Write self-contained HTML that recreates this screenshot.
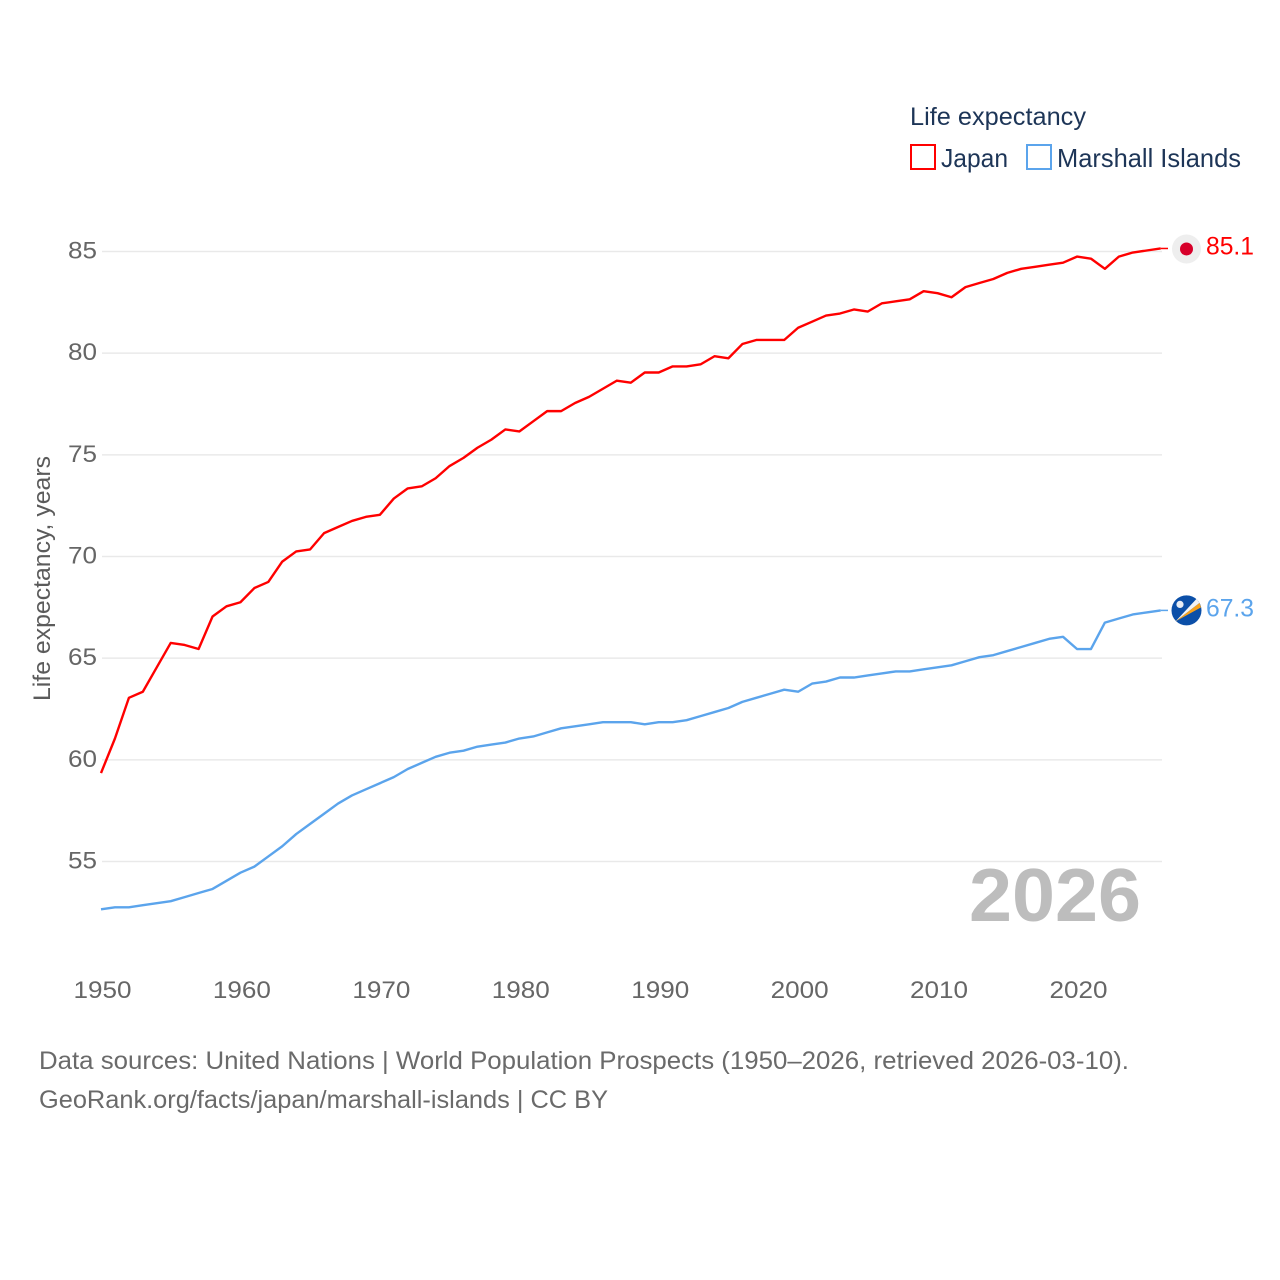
<!DOCTYPE html>
<html lang="en">
<head>
<meta charset="utf-8">
<title>Life expectancy: Japan and Marshall Islands</title>
<style>
html,body{margin:0;padding:0;background:#fff;width:1280px;height:1280px;overflow:hidden}
svg{display:block;font-family:"Liberation Sans",sans-serif}
</style>
</head>
<body>
<svg id="chart" xmlns="http://www.w3.org/2000/svg" width="1280" height="1280" viewBox="0 0 1280 1280">
  <rect x="0" y="0" width="1280" height="1280" fill="#fff"/>
  <g id="grid"></g>
  <g id="yticks"></g>
  <g id="xticks"></g>
  <text transform="translate(50,701) rotate(-90)" font-size="24" fill="#5b5b5b" textLength="245" lengthAdjust="spacingAndGlyphs">Life expectancy, years</text>
  <text x="969" y="921" font-size="75" font-weight="bold" fill="#bdbdbd" textLength="172" lengthAdjust="spacingAndGlyphs">2026</text>
  <g id="series"></g>

  <g>
    <text x="910" y="125" font-size="25" fill="#1d3557" textLength="176" lengthAdjust="spacingAndGlyphs">Life expectancy</text>
    <g>
      <rect x="911" y="145" width="24" height="24" fill="none" stroke="#ff0000" stroke-width="2"/>
      <text x="941" y="167" font-size="26" fill="#1d3557" textLength="67" lengthAdjust="spacingAndGlyphs">Japan</text>
    </g>
    <g>
      <rect x="1027" y="145" width="24" height="24" fill="none" stroke="#5ba4ec" stroke-width="2"/>
      <text x="1057" y="167" font-size="26" fill="#1d3557" textLength="184" lengthAdjust="spacingAndGlyphs">Marshall Islands</text>
    </g>
  </g>

  <g id="endJapan">
    <circle cx="0" cy="0" r="14.5" fill="#eeeeee"/>
    <circle cx="0" cy="0" r="6.5" fill="#d7002a"/>
  </g>
  <g id="endMarshall">
    <circle cx="0" cy="0" r="15" fill="#0b4fa8"/>
    <path d="M-11 11 L13 -7.5 L14.5 -3 Z" fill="#f7a21c"/>
    <path d="M-11 11 L10 -11.5 L13 -7.5 Z" fill="#f4f4f4"/>
    <circle cx="-6.5" cy="-6" r="3.6" fill="#e8edf5"/>
  </g>
  <text id="labelJapan" x="1206" font-size="25" fill="#ff0000" textLength="48" lengthAdjust="spacingAndGlyphs"></text>
  <text id="labelMarshall" x="1206" font-size="25" fill="#5ba4ec" textLength="48" lengthAdjust="spacingAndGlyphs"></text>

  <text x="39" y="1069" font-size="25" fill="#6a6a6a" textLength="1090" lengthAdjust="spacingAndGlyphs">Data sources: United Nations | World Population Prospects (1950–2026, retrieved 2026-03-10).</text>
  <text x="39" y="1108" font-size="25" fill="#6a6a6a" textLength="569" lengthAdjust="spacingAndGlyphs">GeoRank.org/facts/japan/marshall-islands | CC BY</text>
</svg>
<script>
const firstYear = 1950;
const japanValues = [59.3,61.0,63.0,63.3,64.5,65.7,65.6,65.4,67.0,67.5,67.7,68.4,68.7,69.7,70.2,70.3,71.1,71.4,71.7,71.9,72.0,72.8,73.3,73.4,73.8,74.4,74.8,75.3,75.7,76.2,76.1,76.6,77.1,77.1,77.5,77.8,78.2,78.6,78.5,79.0,79.0,79.3,79.3,79.4,79.8,79.7,80.4,80.6,80.6,80.6,81.2,81.5,81.8,81.9,82.1,82.0,82.4,82.5,82.6,83.0,82.9,82.7,83.2,83.4,83.6,83.9,84.1,84.2,84.3,84.4,84.7,84.6,84.1,84.7,84.9,85.0,85.1];
const marshallValues = [52.6,52.7,52.7,52.8,52.9,53.0,53.2,53.4,53.6,54.0,54.4,54.7,55.2,55.7,56.3,56.8,57.3,57.8,58.2,58.5,58.8,59.1,59.5,59.8,60.1,60.3,60.4,60.6,60.7,60.8,61.0,61.1,61.3,61.5,61.6,61.7,61.8,61.8,61.8,61.7,61.8,61.8,61.9,62.1,62.3,62.5,62.8,63.0,63.2,63.4,63.3,63.7,63.8,64.0,64.0,64.1,64.2,64.3,64.3,64.4,64.5,64.6,64.8,65.0,65.1,65.3,65.5,65.7,65.9,66.0,65.4,65.4,66.7,66.9,67.1,67.2,67.3];
const yTicks = [55,60,65,70,75,80,85];
const xTicks = [1950,1960,1970,1980,1990,2000,2010,2020];

const NS = 'http://www.w3.org/2000/svg';
function xScale(year){ return 101 + (year - 1950) * (976 / 70); }
function yScale(v){ return 250.5 + (85 - v) * (610 / 30); }
const plotRight = 1162;

const grid = document.getElementById('grid');
const yGroup = document.getElementById('yticks');
const xGroup = document.getElementById('xticks');

yTicks.forEach(function(t){
  const line = document.createElementNS(NS, 'line');
  
  
  line.setAttribute('x1', 102);
  line.setAttribute('x2', plotRight);
  line.setAttribute('y1', yScale(t) + 1);
  line.setAttribute('y2', yScale(t) + 1);
  line.setAttribute('stroke', '#e9e9e9');
  line.setAttribute('stroke-width', '1.5');
  grid.appendChild(line);

  const label = document.createElementNS(NS, 'text');
  
  
  label.setAttribute('x', 97);
  label.setAttribute('y', yScale(t) + 8);
  label.setAttribute('text-anchor', 'end');
  label.setAttribute('font-size', '24');
  label.setAttribute('fill', '#666666');
  label.setAttribute('textLength', '29');
  label.setAttribute('lengthAdjust', 'spacingAndGlyphs');
  label.textContent = t;
  yGroup.appendChild(label);
});

xTicks.forEach(function(t){
  const label = document.createElementNS(NS, 'text');
  
  
  label.setAttribute('x', xScale(t) + 1.5);
  label.setAttribute('y', 998);
  label.setAttribute('text-anchor', 'middle');
  label.setAttribute('font-size', '24');
  label.setAttribute('fill', '#666666');
  label.setAttribute('textLength', '58');
  label.setAttribute('lengthAdjust', 'spacingAndGlyphs');
  label.textContent = t;
  xGroup.appendChild(label);
});

function pointsFor(values){
  return values.map(function(v, i){
    return xScale(firstYear + i).toFixed(2) + ',' + yScale(v).toFixed(2);
  }).join(' ');
}

const seriesGroup = document.getElementById('series');

const japanLine = document.createElementNS(NS, 'polyline');


japanLine.setAttribute('points', pointsFor(japanValues));
japanLine.setAttribute('fill', 'none');
japanLine.setAttribute('stroke', '#ff0000');
japanLine.setAttribute('stroke-width', '2.4');
japanLine.setAttribute('stroke-linejoin', 'round');
seriesGroup.appendChild(japanLine);

const marshallLine = document.createElementNS(NS, 'polyline');


marshallLine.setAttribute('points', pointsFor(marshallValues));
marshallLine.setAttribute('fill', 'none');
marshallLine.setAttribute('stroke', '#5ba4ec');
marshallLine.setAttribute('stroke-width', '2.4');
marshallLine.setAttribute('stroke-linejoin', 'round');
seriesGroup.appendChild(marshallLine);

function addLeader(name, values, color){
  const lastY = yScale(values[values.length - 1]);
  const leader = document.createElementNS(NS, 'line');
  
  
  leader.setAttribute('x1', xScale(2026));
  leader.setAttribute('x2', 1168);
  leader.setAttribute('y1', lastY);
  leader.setAttribute('y2', lastY);
  leader.setAttribute('stroke', color);
  leader.setAttribute('stroke-width', '1.5');
  seriesGroup.appendChild(leader);
  return lastY;
}
const japanEndY = addLeader('japan-leader-line', japanValues, '#ff0000');
const marshallEndY = addLeader('marshall-islands-leader-line', marshallValues, '#5ba4ec');

document.getElementById('endJapan').setAttribute('transform', 'translate(1186.5,' + (japanEndY + 0.5) + ')');
document.getElementById('endMarshall').setAttribute('transform', 'translate(1186.5,' + marshallEndY + ')');

const labelJapan = document.getElementById('labelJapan');
labelJapan.setAttribute('y', japanEndY + 6);
labelJapan.textContent = japanValues[japanValues.length - 1].toFixed(1);
const labelMarshall = document.getElementById('labelMarshall');
labelMarshall.setAttribute('y', marshallEndY + 6);
labelMarshall.textContent = marshallValues[marshallValues.length - 1].toFixed(1);
</script>
</body>
</html>
